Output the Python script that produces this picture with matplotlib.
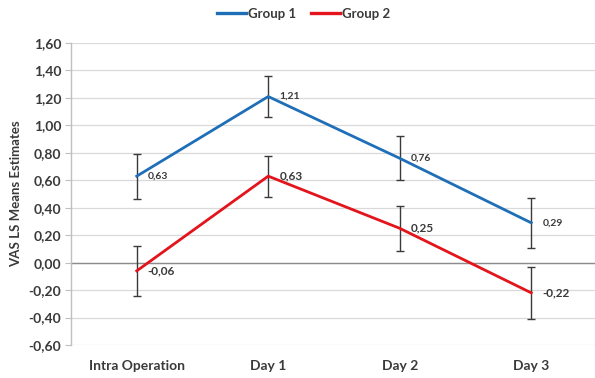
import matplotlib
matplotlib.use("Agg")
import matplotlib.pyplot as plt
from matplotlib.ticker import FuncFormatter

plt.rcParams['font.family'] = ['Lato', 'DejaVu Sans']

categories = ["Intra Operation", "Day 1", "Day 2", "Day 3"]
group1 = [0.63, 1.21, 0.76, 0.29]
group2 = [-0.06, 0.63, 0.25, -0.22]
group1_err = [0.165, 0.15, 0.16, 0.18]
group2_err = [0.18, 0.15, 0.165, 0.19]
y_ticks = [-0.6, -0.4, -0.2, 0.0, 0.2, 0.4, 0.6, 0.8, 1.0, 1.2, 1.4, 1.6]

blue = "#1F6FB8"
red = "#E3141C"
text_c = "#3a3a3a"

fig = plt.figure(figsize=(5.95, 3.78), dpi=100)
ax = fig.add_axes([71 / 595, 33 / 378, 526 / 595, 302 / 378])

x = list(range(len(categories)))

for vals, errs, col, fs in [(group1, group1_err, blue, 7.5), (group2, group2_err, red, 8.5)]:
    ax.errorbar(x, vals, yerr=errs, fmt='none', ecolor="#3a3a3a",
                elinewidth=1.0, capsize=3.2, capthick=1.0, zorder=3)
    ax.plot(x, vals, color=col, lw=2.0, zorder=4)
    for xi, v in zip(x, vals):
        ax.annotate(f"{v:.2f}".replace(".", ","), (xi, v), xytext=(8, 0),
                    textcoords="offset points", ha="left", va="center",
                    fontsize=fs, fontweight="bold", color=text_c, zorder=5)

# legend proxies
h1, = ax.plot([], [], color=blue, lw=2.4, label="Group 1")
h2, = ax.plot([], [], color=red, lw=2.4, label="Group 2")
fig.legend(handles=[h1, h2], loc="center", bbox_to_anchor=(0.51, 0.963),
           ncol=2, frameon=False, handlelength=2.2,
           handletextpad=0.15, columnspacing=1.1,
           prop={'weight': 'bold', 'size': 9.5})
for t in fig.legends[0].get_texts():
    t.set_color(text_c)

ax.set_xlim(-0.5, 3.5)
ax.set_ylim(-0.6, 1.6)
ax.set_yticks(y_ticks)
ax.yaxis.set_major_formatter(FuncFormatter(lambda v, p: f"{v:.2f}".replace(".", ",")))
ax.set_xticks(x)
ax.set_xticklabels(categories)

ax.grid(axis='y', color="#d9d9d9", lw=0.9, zorder=0)
ax.axhline(0, color="#8c8c8c", lw=1.0, zorder=1)
ax.set_axisbelow(True)

for s in ["top", "right", "bottom"]:
    ax.spines[s].set_visible(False)
ax.spines["left"].set_color("#bfbfbf")
ax.spines["left"].set_linewidth(1.0)

ax.tick_params(axis='y', length=4, color="#bfbfbf", labelsize=10, labelcolor=text_c, pad=3)
ax.tick_params(axis='x', length=0, labelsize=10, labelcolor=text_c, pad=11)
for lab in ax.get_yticklabels() + ax.get_xticklabels():
    lab.set_fontweight("bold")

ax.set_ylabel("VAS LS Means Estimates", fontsize=9.5, fontweight="bold", color=text_c, labelpad=5)

fig.savefig("out.png", dpi=100)
